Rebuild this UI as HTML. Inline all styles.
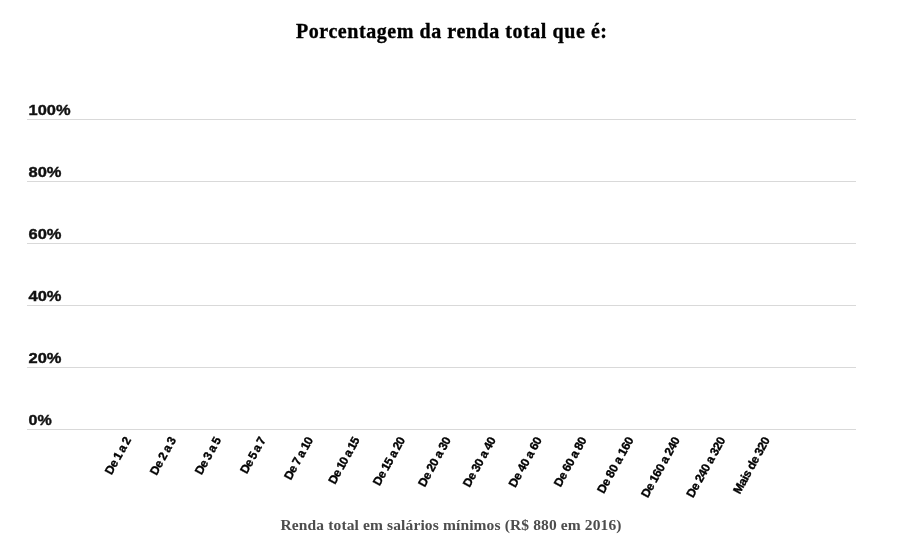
<!DOCTYPE html>
<html><head><meta charset="utf-8">
<style>
html,body{margin:0;padding:0;background:#fff;width:900px;height:540px;overflow:hidden}
svg{display:block;will-change:transform}
.t{font-family:"Liberation Serif",serif;font-weight:bold}
.tt{stroke:#000;stroke-width:0.35px}
.ax{}
.y{font-family:"Liberation Sans",sans-serif;font-weight:bold;font-size:15px;fill:#111;stroke:#111;stroke-width:0.4px}
.x{font-family:"Liberation Sans",sans-serif;font-weight:bold;font-size:12px;fill:#000;stroke:#000;stroke-width:0.35px}
</style></head><body>
<svg width="900" height="540" viewBox="0 0 900 540" xmlns="http://www.w3.org/2000/svg">
<text class="t tt" x="296" y="37.7" font-size="20" fill="#000" textLength="311" lengthAdjust="spacing">Porcentagem da renda total que é:</text>
<g stroke="#d9d9d9" stroke-width="1">
<line x1="27" x2="856" y1="119.5" y2="119.5"/>
<line x1="27" x2="856" y1="181.5" y2="181.5"/>
<line x1="27" x2="856" y1="243.5" y2="243.5"/>
<line x1="27" x2="856" y1="305.5" y2="305.5"/>
<line x1="27" x2="856" y1="367.5" y2="367.5"/>
<line x1="27" x2="856" y1="429.5" y2="429.5"/>
</g>
<text class="y" x="28.5" y="115.0" textLength="42.00" lengthAdjust="spacingAndGlyphs">100%</text>
<text class="y" x="28.5" y="177.0" textLength="33.00" lengthAdjust="spacingAndGlyphs">80%</text>
<text class="y" x="28.5" y="239.0" textLength="33.00" lengthAdjust="spacingAndGlyphs">60%</text>
<text class="y" x="28.5" y="301.0" textLength="33.00" lengthAdjust="spacingAndGlyphs">40%</text>
<text class="y" x="28.5" y="363.0" textLength="33.00" lengthAdjust="spacingAndGlyphs">20%</text>
<text class="y" x="28.5" y="425.0" textLength="23.20" lengthAdjust="spacingAndGlyphs">0%</text>
<g class="x" text-anchor="end">
<text transform="translate(131.41,439.68) rotate(-61)" textLength="40.82" lengthAdjust="spacing">De 1 a 2</text>
<text transform="translate(176.56,439.68) rotate(-61)" textLength="41.43" lengthAdjust="spacing">De 2 a 3</text>
<text transform="translate(221.47,439.68) rotate(-61)" textLength="41.04" lengthAdjust="spacing">De 3 a 5</text>
<text transform="translate(266.21,439.68) rotate(-61)" textLength="39.96" lengthAdjust="spacing">De 5 a 7</text>
<text transform="translate(313.41,439.68) rotate(-61)" textLength="46.93" lengthAdjust="spacing">De 7 a 10</text>
<text transform="translate(360.09,439.68) rotate(-61)" textLength="51.72" lengthAdjust="spacing">De 10 a 15</text>
<text transform="translate(405.51,439.68) rotate(-61)" textLength="53.43" lengthAdjust="spacing">De 15 a 20</text>
<text transform="translate(451.25,439.68) rotate(-61)" textLength="54.83" lengthAdjust="spacing">De 20 a 30</text>
<text transform="translate(496.34,439.68) rotate(-61)" textLength="55.22" lengthAdjust="spacing">De 30 a 40</text>
<text transform="translate(542.21,439.68) rotate(-61)" textLength="55.53" lengthAdjust="spacing">De 40 a 60</text>
<text transform="translate(587.10,439.68) rotate(-61)" textLength="55.07" lengthAdjust="spacing">De 60 a 80</text>
<text transform="translate(633.98,439.68) rotate(-61)" textLength="62.35" lengthAdjust="spacing">De 80 a 160</text>
<text transform="translate(680.32,439.68) rotate(-61)" textLength="67.38" lengthAdjust="spacing">De 160 a 240</text>
<text transform="translate(725.70,439.68) rotate(-61)" textLength="67.30" lengthAdjust="spacing">De 240 a 320</text>
<text transform="translate(770.32,439.68) rotate(-61)" textLength="63.08" lengthAdjust="spacing">Mais de 320</text>
</g>
<text class="t ax" x="280.5" y="529.8" font-size="15.5" fill="#4d4d4d" textLength="341" lengthAdjust="spacing">Renda total em salários mínimos (R$ 880 em 2016)</text>
</svg>
</body></html>
